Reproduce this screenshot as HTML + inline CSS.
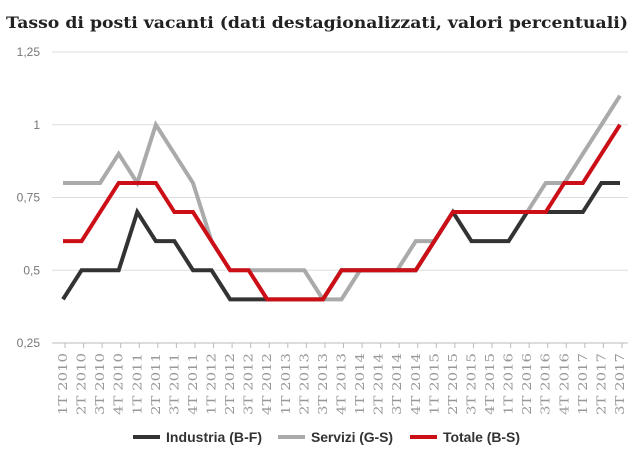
<!DOCTYPE html>
<html><head><meta charset="utf-8"><style>
body{margin:0;background:#fff;width:640px;height:458px;overflow:hidden}
</style></head><body>
<svg id="chart" width="640" height="458" xmlns="http://www.w3.org/2000/svg">
<text x="6" y="28" font-family="DejaVu Serif, serif" font-weight="bold" font-size="16" textLength="622" lengthAdjust="spacingAndGlyphs" fill="#222">Tasso di posti vacanti (dati destagionalizzati, valori percentuali)</text>
<g id="grid"></g><g id="xaxis"></g><g id="series"></g>
<g font-family="Liberation Sans, sans-serif" font-size="14" font-weight="bold" fill="#333">
<g><line x1="133" y1="437" x2="160" y2="437" stroke="#333" stroke-width="4"/><text x="166" y="442" textLength="96">Industria (B-F)</text></g>
<g><line x1="278" y1="437" x2="305" y2="437" stroke="#aaa" stroke-width="4"/><text x="311" y="442" textLength="82">Servizi (G-S)</text></g>
<g><line x1="410" y1="437" x2="437" y2="437" stroke="#cc0f17" stroke-width="4"/><text x="443" y="442" textLength="77">Totale (B-S)</text></g>
</g>
</svg>
<script>
const categories=[];
for(const y of [2010,2011,2012,2013,2014,2015,2016,2017])for(const q of [1,2,3,4])categories.push(q+"T "+y);
categories.pop();
const industria=[0.4,0.5,0.5,0.5,0.7,0.6,0.6,0.5,0.5,0.4,0.4,0.4,0.4,0.4,0.4,0.5,0.5,0.5,0.5,0.5,0.6,0.7,0.6,0.6,0.6,0.7,0.7,0.7,0.7,0.8,0.8];
const servizi=[0.8,0.8,0.8,0.9,0.8,1.0,0.9,0.8,0.6,0.5,0.5,0.5,0.5,0.5,0.4,0.4,0.5,0.5,0.5,0.6,0.6,0.7,0.7,0.7,0.7,0.7,0.8,0.8,0.9,1.0,1.1];
const totale=[0.6,0.6,0.7,0.8,0.8,0.8,0.7,0.7,0.6,0.5,0.5,0.4,0.4,0.4,0.4,0.5,0.5,0.5,0.5,0.5,0.6,0.7,0.7,0.7,0.7,0.7,0.7,0.8,0.8,0.9,1.0];
const yTicks=[0.25,0.5,0.75,1,1.25];
const yTickLabels=["0,25","0,5","0,75","1","1,25"];
const NS="http://www.w3.org/2000/svg";
const x=i=>63+i*(620-63)/(categories.length-1);
const y=v=>343-(v-0.25)*(343-52)/1.0;
function mk(tag,attrs,parent){const e=document.createElementNS(NS,tag);for(const k in attrs)e.setAttribute(k,attrs[k]);parent.appendChild(e);return e;}
const grid=document.getElementById('grid');
yTicks.forEach((t,i)=>{
 const l=mk('line',{x1:52,x2:628,y1:y(t),y2:y(t),stroke:i==0?'#bbb':'#ddd','stroke-width':1},grid);
 
 
 const tx=mk('text',{x:40,y:y(t)+4,'text-anchor':'end','font-family':'Liberation Sans, sans-serif','font-size':12,fill:'#777'},grid);
 tx.textContent=yTickLabels[i];
 
 
});
const xa=document.getElementById('xaxis');
categories.forEach((c,i)=>{
 const tk=mk('line',{x1:x(i)+2,x2:x(i)+2,y1:343,y2:348,stroke:'#bbb'},xa);
 
 
 const t=mk('text',{transform:`translate(${x(i)+4},${353}) rotate(-90)`,'text-anchor':'end','font-family':'DejaVu Serif, serif','font-size':12,textLength:62,lengthAdjust:'spacingAndGlyphs',fill:'#999'},xa);
 t.textContent=c;
 
 
});
const sg=document.getElementById('series');
[[servizi,'#aaa','servizi-line'],[industria,'#333','industria-line'],[totale,'#cc0f17','totale-line']].forEach(([d,col,n])=>{
 const p=mk('polyline',{points:d.map((v,i)=>x(i)+','+y(v)).join(' '),fill:'none',stroke:col,'stroke-width':4,'stroke-linejoin':'miter'},sg);
 
 
});
</script>
</body></html>
